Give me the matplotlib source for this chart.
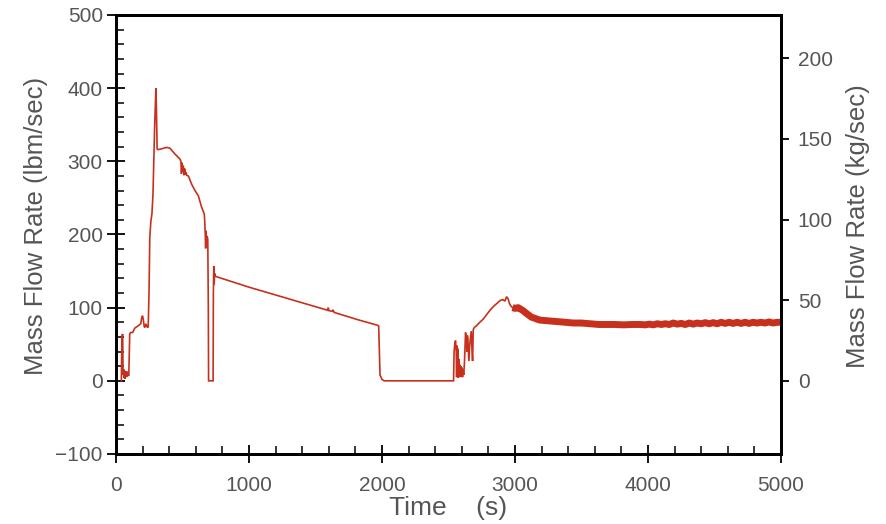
import matplotlib
matplotlib.use('Agg')
import matplotlib.pyplot as plt

# lbm/sec -> kg/sec
LBM_TO_KG = 0.45359237

# early part of the trace (thin line)
time_a = [40, 45, 50, 53, 57, 60, 64, 68, 72, 76, 80, 85, 90, 96, 103, 108,
          125, 141, 165, 186, 193, 199, 205, 212, 217, 225, 232, 242,
          248, 254, 262, 270, 278, 284, 290, 296, 300, 304, 309, 317,
          340, 380, 405, 443, 481, 488, 492, 497, 501, 506, 511, 516, 521, 527, 531,
          544, 568, 594, 619, 644, 664, 668, 671, 674, 677, 680, 685, 690, 694, 696,
          730, 732, 735, 738, 741, 745, 760,
          1000, 1300, 1590, 1596, 1600, 1625, 1632, 1640, 1828, 1965, 1975, 1985, 2000, 2016,
          2538, 2542, 2548, 2553, 2558, 2561, 2564, 2567, 2570, 2573, 2577, 2581, 2585,
          2589, 2593, 2597, 2601, 2605, 2610, 2614, 2620, 2628, 2634, 2638, 2642, 2646,
          2650, 2653, 2660, 2671, 2676, 2681, 2686, 2691, 2700, 2709, 2735, 2759,
          2785, 2810, 2840, 2872, 2890, 2910, 2925, 2936, 2948, 2958, 2966, 2981]
flow_a = [0, 62, 64, 8, 16, 4, 14, 3, 12, 5, 13, 6, 9, 7, 64, 66,
          66, 72, 75, 78, 86, 89, 84, 74, 73, 78, 74, 73,
          120, 196, 218, 228, 255, 300, 345, 380, 400, 370, 317, 316,
          317, 319, 318, 310, 303, 300, 283, 298, 286, 294, 281, 290, 282, 285, 281,
          280, 269, 260, 253, 237, 228, 214, 200, 181, 205, 190, 198, 193, 100, 0,
          0, 120, 157, 132, 147, 143, 142,
          128, 112, 96.5, 100, 96, 95, 97, 93.5, 83, 76, 75, 8, 2, 0,
          0, 40, 52, 55, 40, 5, 48, 6, 44, 4, 30, 6, 22,
          5, 20, 6, 18, 5, 15, 8, 25, 66, 58, 40, 62, 56,
          38, 27, 50, 68, 45, 27, 70, 72, 74, 75, 80, 84,
          90, 96, 102, 107, 110, 111, 109, 115, 112, 106, 103, 100]

# late part of the trace (fast oscillation, drawn as a thick band)
time_b = [2981, 3000, 3024, 3060, 3087, 3124, 3187, 3250, 3313, 3380, 3439,
          3500, 3565, 3630, 3691, 3750, 3817, 3880, 3943, 3980, 4010,
          4040, 4070, 4100, 4130, 4160, 4190, 4220, 4250, 4280, 4310,
          4340, 4370, 4400, 4430, 4460, 4490, 4520, 4550, 4580, 4610,
          4640, 4670, 4700, 4730, 4760, 4790, 4820, 4850, 4880, 4910,
          4940, 4970, 5000]
flow_b = [100, 99, 100, 96, 92, 87, 83, 82, 81, 80, 79,
          79, 78, 77, 77, 77, 76.5, 77, 77, 76.5, 77.5,
          76.5, 78, 77, 78, 77, 79, 77.5, 78.5, 77, 79,
          77.5, 79, 78, 79.5, 78, 79.5, 78, 80, 78.5, 80,
          78.5, 80, 78.5, 80, 78.5, 80, 79, 80, 79, 80.5,
          79, 80, 80]

x_ticks = [0, 1000, 2000, 3000, 4000, 5000]
y_ticks = [-100, 0, 100, 200, 300, 400, 500]
y2_ticks = [0, 50, 100, 150, 200]

LINE_COLOR = '#c8301e'
TEXT_COLOR = '#555555'
FONT = ['Liberation Sans', 'DejaVu Sans']


def draw_flow(out_file):
    plt.rcParams['font.family'] = FONT
    fig = plt.figure(figsize=(8.87, 5.24), dpi=100)
    ax = fig.add_axes([0.1308, 0.1336, 0.7497, 0.8378])

    ax.plot(time_a, flow_a, color=LINE_COLOR, lw=1.2, solid_joinstyle='miter')
    ax.plot(time_b, flow_b, color=LINE_COLOR, lw=5.0, solid_capstyle='butt',
            solid_joinstyle='round')

    ax.set_xlim(0, 5000)
    ax.set_ylim(-100, 500)
    ax.set_xticks(x_ticks)
    ax.set_yticks(y_ticks)
    ax.set_xticks(range(0, 5001, 200), minor=True)
    ax.set_yticks(range(-100, 501, 20), minor=True)
    ax.set_xticklabels([str(v) for v in x_ticks])
    ax.set_yticklabels([str(v).replace('-', '\u2212') for v in y_ticks])

    ax.tick_params(which='major', direction='inout', length=13, width=1.3,
                   labelsize=15, labelcolor=TEXT_COLOR, top=False, right=False)
    ax.tick_params(which='minor', direction='in', length=6, width=1.1,
                   top=False, right=False)
    ax.tick_params(axis='x', which='major', pad=9)
    ax.tick_params(axis='y', which='major', pad=3)
    for sp in ax.spines.values():
        sp.set_linewidth(2.0)

    ax.set_xlabel('Time    (s)', fontsize=19, color=TEXT_COLOR)
    ax.xaxis.set_label_coords(0.5, -0.095)
    ax.set_ylabel('Mass Flow Rate (lbm/sec)', fontsize=18.5, color=TEXT_COLOR)
    ax.yaxis.set_label_coords(-0.103, 0.52)

    # second scale in kg/sec
    ax2 = ax.twinx()
    ax2.set_ylim(-100 * LBM_TO_KG, 500 * LBM_TO_KG)
    ax2.set_yticks(y2_ticks)
    ax2.set_yticklabels([str(v) for v in y2_ticks])
    ax2.tick_params(direction='out', length=6, width=1.3, pad=6,
                    labelsize=15, labelcolor=TEXT_COLOR)
    ax2.set_ylabel('Mass Flow Rate (kg/sec)', fontsize=18.5, color=TEXT_COLOR)
    ax2.yaxis.set_label_coords(1.098, 0.52)
    for sp in ax2.spines.values():
        sp.set_linewidth(2.0)

    fig.savefig(out_file, dpi=100, facecolor='white')
    plt.close(fig)


if __name__ == '__main__':
    draw_flow('out.png')
